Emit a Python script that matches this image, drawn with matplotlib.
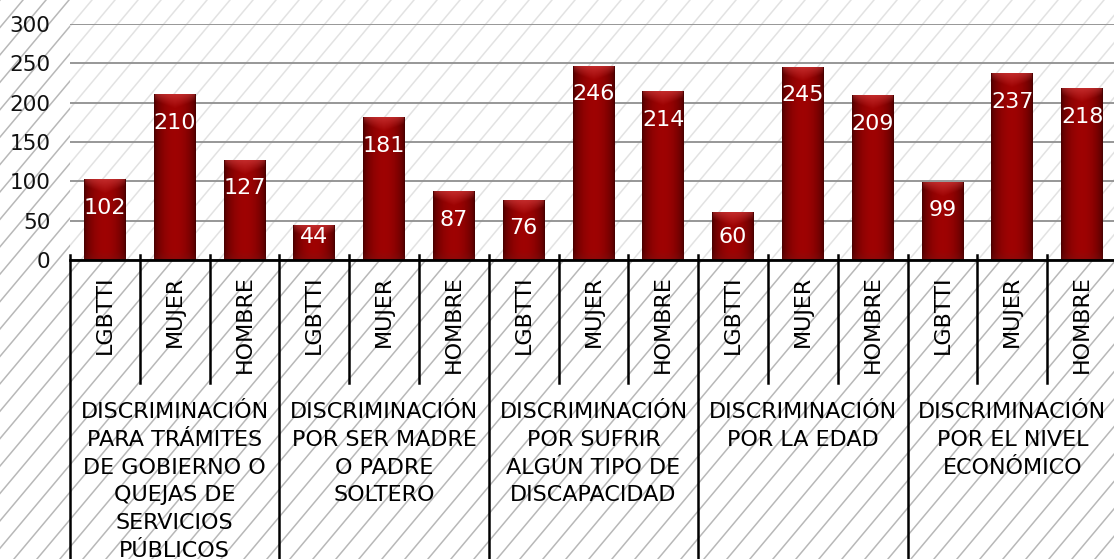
# Bar chart: discrimination reports by group (LGBTTI / MUJER / HOMBRE)
import numpy as np
import matplotlib.pyplot as plt
from matplotlib.lines import Line2D
from matplotlib.patches import Rectangle
from matplotlib.transforms import blended_transform_factory

groups = ["DISCRIMINACIÓN\nPARA TRÁMITES\nDE GOBIERNO O\nQUEJAS DE\nSERVICIOS\nPÚBLICOS",
          "DISCRIMINACIÓN\nPOR SER MADRE\nO PADRE\nSOLTERO",
          "DISCRIMINACIÓN\nPOR SUFRIR\nALGÚN TIPO DE\nDISCAPACIDAD",
          "DISCRIMINACIÓN\nPOR LA EDAD",
          "DISCRIMINACIÓN\nPOR EL NIVEL\nECONÓMICO"]
subgroups = ["LGBTTI", "MUJER", "HOMBRE"]
lgbtti = [102, 44, 76, 60, 99]
mujer = [210, 181, 246, 245, 237]
hombre = [127, 87, 214, 209, 218]
yticks = [0, 50, 100, 150, 200, 250, 300]

values = []
for a, b, c in zip(lgbtti, mujer, hombre):
    values += [a, b, c]
labels = subgroups * len(groups)

W, H = 1114, 559
AX_LEFT, AX_BOTTOM, AX_W, AX_H = 70, 299, 1047, 236   # pixels
ppu = AX_H / 300.0  # pixels per data unit


def ay(p_top):
    """pixel row (from top of image) -> axes fraction"""
    return ((H - p_top) - AX_BOTTOM) / AX_H


fig = plt.figure(figsize=(W / 100, H / 100), dpi=100)
fig.patch.set_facecolor('white')

# diagonal hatching in the background
ang = np.deg2rad(50)
run = H / np.tan(ang)
for x0 in np.arange(-run, W + 23, 23):
    fig.add_artist(Line2D([x0 / W, (x0 + run) / W], [0, 1], color='#b8b8b8',
                          lw=1.1, zorder=-5))
# lighter plot area
fig.add_artist(Rectangle((AX_LEFT / W, AX_BOTTOM / H), 1, 1, facecolor=(1, 1, 1, 0.6),
                         edgecolor='none', zorder=-4))

ax = fig.add_axes([AX_LEFT / W, AX_BOTTOM / H, AX_W / W, AX_H / H])
ax.patch.set_visible(False)

x = np.arange(len(values))
bars = ax.bar(x, values, width=0.6, color='#8b0000', zorder=3)

# shaded (cylinder-like) fill for each bar
u = np.linspace(0, 1, 48)
prof = np.sin(np.pi * u) ** 0.6
dark = np.array([0.28, 0.0, 0.0])
mid = np.array([0.62, 0.01, 0.01])
for b in bars:
    x0, w, h = b.get_x(), b.get_width(), b.get_height()
    ny = max(int(h * ppu), 2)
    v = np.arange(ny)[:, None, None]
    img = dark + (mid - dark) * prof[None, :, None]
    img = np.broadcast_to(img, (ny, len(u), 3)).copy()
    # lighter cap at the top, shaped like a shallow V
    depth = 14.0 * (1 - 0.55 * np.abs(2 * u - 1))[None, :, None]
    t = np.clip(1 - v / depth, 0, 1)
    wgt = 0.5 * t * (prof[None, :, None] ** 0.3)
    img = img * (1 - wgt) + np.array([0.90, 0.32, 0.32]) * wgt
    tb = np.clip(1 - (ny - 1 - v) / 8.0, 0, 1)
    img = img * (1 - 0.3 * tb) + np.array([0.45, 0.10, 0.10]) * 0.3 * tb
    ax.imshow(img, extent=[x0, x0 + w, 0, h], aspect='auto', origin='upper',
              interpolation='bilinear', zorder=3.5)

# value labels inside the top of the bars
for xi, val in zip(x, values):
    ax.annotate(str(val), xy=(xi, max(val - 33, 32)), xytext=(0, -5.8),
                textcoords='offset points', ha='center', va='baseline',
                color='white', fontsize=16, zorder=5)

ax.set_xlim(-0.5, len(values) - 0.5)
ax.set_ylim(0, 300)
ax.set_yticks(yticks)
ax.yaxis.grid(True, color='#8f8f8f', lw=1.3)
ax.set_axisbelow(True)
for s in ['left', 'top', 'right']:
    ax.spines[s].set_visible(False)
ax.spines['bottom'].set_color('black')
ax.spines['bottom'].set_linewidth(2)
ax.spines['bottom'].set_zorder(6)
ax.tick_params(axis='y', length=0, pad=14, labelsize=15.5, labelcolor='#111111')

ax.set_xticks(x)
ax.set_xticklabels(labels, rotation=90, fontsize=16)
ax.tick_params(axis='x', length=0, pad=11)

# category separators
tr = blended_transform_factory(ax.transData, ax.transAxes)
for bnd in np.arange(-0.5, len(values), 1):
    is_group = (bnd + 0.5) % 3 == 0
    bottom = -1.35 if is_group else ay(383)
    ax.plot([bnd, bnd], [0.021, bottom], transform=tr, color='black', lw=1.8,
            clip_on=False, zorder=6)

# group labels, one line at a time
for g, label in enumerate(groups):
    for i, line in enumerate(label.split('\n')):
        ax.text(3 * g + 1, ay(418.3 + 27.7 * i), line, transform=tr, ha='center',
                va='baseline', fontsize=16, clip_on=False)

fig.savefig('out.png', dpi=100)
